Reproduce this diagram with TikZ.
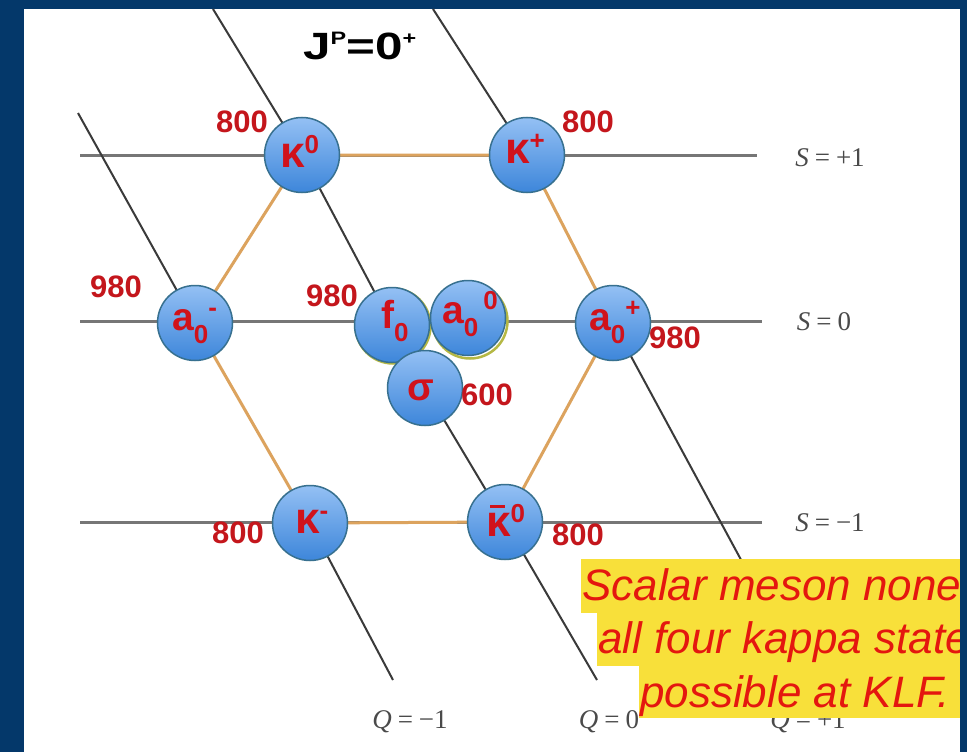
\documentclass[tikz,border=0pt]{standalone}
\usepackage{fontspec}
\setmainfont{Liberation Sans}
\newfontfamily\serifS{Liberation Serif}
\usetikzlibrary{calc}
\definecolor{navy}{HTML}{04386A}
\definecolor{massred}{HTML}{C4161C}
\definecolor{ballred}{HTML}{D0121B}
\definecolor{hexorange}{HTML}{DCA35E}
\definecolor{gridgray}{HTML}{767676}
\definecolor{qline}{HTML}{3A3A3A}
\definecolor{labgray}{HTML}{4A4A4A}
\definecolor{noteyellow}{HTML}{F8E03A}
\definecolor{notered}{HTML}{E4170F}
\definecolor{balltop}{HTML}{94C0F4}
\definecolor{ballbot}{HTML}{3D86DA}
\definecolor{ballrim}{HTML}{37708F}
\definecolor{rimglow}{HTML}{B5B844}
\newcommand\myup[1]{\raisebox{14pt}{\fontsize{26}{26}\selectfont #1}}
\newcommand\mydn[1]{\raisebox{-13pt}{\fontsize{26}{26}\selectfont #1}}
\newcommand\kap{{\fontsize{44}{44}\selectfont κ}}
\newcommand\kapbar{\leavevmode\rlap{\kern4pt\raisebox{28pt}{\rule{15pt}{3.5pt}}}\kap}
\newcommand\ttup[1]{\raisebox{16pt}{\fontsize{18}{18}\selectfont #1}}
\tikzset{
 ball/.style={circle, minimum size=75pt, inner sep=0pt, top color=balltop, bottom color=ballbot, draw=ballrim, line width=1.5pt},
 balltext/.style={text=ballred, font=\bfseries\fontsize{39}{39}\selectfont, inner sep=0pt, anchor=base west},
 mass/.style={text=massred, font=\bfseries\fontsize{31}{31}\selectfont, inner sep=0pt},
 sgrid/.style={draw=gridgray, line width=3pt},
 qgrid/.style={draw=qline, line width=2pt},
 hexedge/.style={draw=hexorange, line width=3pt},
 axislab/.style={text=labgray, font=\serifS\fontsize{27}{27}\selectfont, inner sep=0pt},
 title/.style={text=black, font=\bfseries\fontsize{38}{38}\selectfont, inner sep=0pt, anchor=base west},
 note/.style={text=notered, font=\itshape\fontsize{44}{44}\selectfont, inner sep=0pt, anchor=base west},
}
\begin{document}
\begin{tikzpicture}[x=1pt,y=-1pt]
\useasboundingbox (0,0) rectangle (967,752);
\fill[navy] (0,0) rectangle (967,752);
\fill[white] (24,9) rectangle (960,752);
% ball centres
\coordinate (cK0) at (302,155);
\coordinate (cKp) at (527,155);
\coordinate (ca0m) at (195,323);
\coordinate (cf0) at (392,325);
\coordinate (ca00) at (468,318);
\coordinate (ca0p) at (613,323);
\coordinate (csig) at (425,388);
\coordinate (cKm) at (310,523);
\coordinate (cKb) at (505,522);
% grid end points
\coordinate (s1L) at (80,155);  \coordinate (s1R) at (757,155);
\coordinate (s0L) at (80,321);  \coordinate (s0R) at (762,321);
\coordinate (smL) at (80,522);  \coordinate (smR) at (762,522);
\coordinate (qmT) at (78,113);  \coordinate (qmB) at (393,680);
\coordinate (q0T) at (213,9);   \coordinate (q0B) at (597,680);
\coordinate (qpT) at (433,9);   \coordinate (qpB) at (806,680);
% grid lines
\draw[sgrid] (s1L) -- (s1R);
\draw[sgrid] (s0L) -- (s0R);
\draw[sgrid] (smL) -- (smR);
\draw[qgrid] (qmT) -- (ca0m);
\draw[qgrid] (cKm) -- (qmB);
\draw[qgrid] (q0T) -- (cK0) -- (cf0) -- (csig) -- (cKb) -- (q0B);
\draw[qgrid] (qpT) -- (cKp);
\draw[qgrid] (ca0p) -- (qpB);
% hexagon
\draw[hexedge] (cK0) -- (cKp) -- (ca0p) -- (cKb) -- (cKm) -- (ca0m) -- cycle;
% axis labels
\node[axislab] (lS1) at (830,158) {\textit{S}\hspace{6pt}=\hspace{6pt}+1};
\node[axislab] (lS0) at (824,322) {\textit{S}\hspace{6pt}=\hspace{6pt}0};
\node[axislab] (lSm) at (830,523) {\textit{S}\hspace{6pt}=\hspace{6pt}−1};
\node[axislab] (lQm) at (410,722) {\textit{Q}\hspace{6pt}=\hspace{6pt}−1};
\node[axislab] (lQ0) at (609,722) {\textit{Q}\hspace{6pt}=\hspace{6pt}0};
\node[axislab] (lQp) at (808,722) {\textit{Q}\hspace{6pt}=\hspace{6pt}+1};
% balls
\draw[rimglow, line width=2.5pt] ($(cf0)+(1,1)$) circle (37.5);
\draw[rimglow, line width=2.5pt] ($(ca00)+(2,3)$) circle (37.5);
\node[ball] (K0) at (cK0) {};
\node[ball] (Kp) at (cKp) {};
\node[ball] (a0m) at (ca0m) {};
\node[ball] (a0p) at (ca0p) {};
\node[ball] (Km) at (cKm) {};
\node[ball] (Kb) at (cKb) {};
\node[ball] (f0) at (cf0) {};
\node[ball] (a00) at (ca00) {};
\node[ball] (sig) at (csig) {};
% ball texts
\node[balltext] (tK0) at (280,167) {\kap\myup{0}};
\node[balltext] (tKp) at (505,163) {\kap\myup{+}};
\node[balltext] (tKm) at (295,533) {\kap\myup{-}};
\node[balltext] (tKb) at (486,536) {\kapbar\myup{0}};
\node[balltext] (ta0m) at (172,330) {a\mydn{0}\myup{-}};
\node[balltext] (tf0) at (381,328) {f\mydn{0}};
\node[balltext] (ta00) at (442,323) {a\mydn{0}\kern5pt\myup{0}};
\node[balltext] (ta0p) at (589,330) {a\mydn{0}\myup{+}};
\node[balltext] (tsig) at (407,400) {σ};
% masses
\node[mass] (mK0) at (242,122) {800};
\node[mass] (mKp) at (588,122) {800};
\node[mass] (ma0m) at (116,287) {980};
\node[mass] (mf0) at (332,296) {980};
\node[mass] (ma0p) at (675,338) {980};
\node[mass] (msig) at (487,395) {600};
\node[mass] (mKm) at (238,533) {800};
\node[mass] (mKb) at (578,535) {800};
% title
\node[title, xscale=1.3] (ttl) at (303,60) {J\ttup{P}=0\ttup{+}};
% note
\fill[noteyellow] (581,559) rectangle (962,613);
\fill[noteyellow] (597,613) rectangle (962,666);
\fill[noteyellow] (639,666) rectangle (962,718);
\begin{scope}
\clip (24,9) rectangle (960,752);
\node[note] (n1) at (582,600) {Scalar meson none};
\node[note] (n2) at (598,653) {all four kappa state};
\node[note] (n3) at (640,707) {possible at KLF.};
\end{scope}
\fill[navy] (960,0) rectangle (967,752);
\end{tikzpicture}
\end{document}
